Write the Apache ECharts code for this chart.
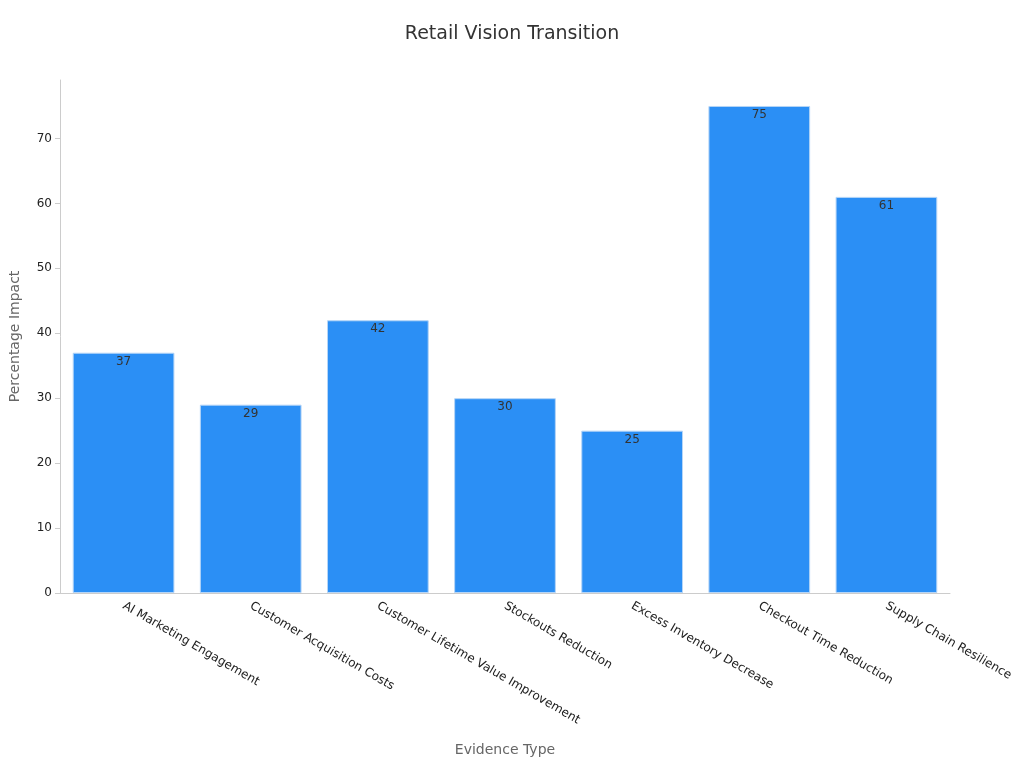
<!DOCTYPE html>
<html><head><meta charset="utf-8">
<script src="https://cdn.jsdelivr.net/npm/echarts@6/dist/echarts.min.js"></script>
<style>html,body{margin:0;padding:0;background:#fff}#c{width:1024px;height:768px}</style>
</head><body><div id="c"></div>
<script>
const categories = ["AI Marketing Engagement","Customer Acquisition Costs","Customer Lifetime Value Improvement","Stockouts Reduction","Excess Inventory Decrease","Checkout Time Reduction","Supply Chain Resilience"];
const values = [37,29,42,30,25,75,61];
const chart = echarts.init(document.getElementById('c'));
const font = 'DejaVu Sans';
chart.setOption({
  textStyle:{fontFamily:font},
  title:{text:'Retail Vision Transition',left:'center',top:20,textStyle:{fontFamily:font,fontSize:19,fontWeight:'normal',color:'#333'}},
  grid:{left:60,right:74,top:80,bottom:175},
  xAxis:{type:'category',data:categories,name:'Evidence Type',nameLocation:'middle',nameGap:150,
    nameTextStyle:{color:'#666',fontSize:14,fontFamily:font},
    axisLine:{lineStyle:{color:'#ccc'}},axisTick:{alignWithLabel:true,lineStyle:{color:'#ccc'}},
    axisLabel:{rotate:-30,color:'#222',fontSize:12,fontFamily:font,interval:0,margin:12}},
  yAxis:{type:'value',min:0,max:79,interval:10,name:'Percentage Impact',nameLocation:'middle',nameGap:38,
    nameTextStyle:{color:'#666',fontSize:14,fontFamily:font},
    axisLine:{show:true,lineStyle:{color:'#ccc'}},axisTick:{show:true,lineStyle:{color:'#ccc'}},
    splitLine:{show:false},
    axisLabel:{color:'#222',fontSize:12,fontFamily:font,showMaxLabel:false}},
  series:[{type:'bar',data:values,barCategoryGap:'20%',
    itemStyle:{color:'#2b8ff5',borderColor:'#b5d5f7',borderWidth:1},
    label:{show:true,position:'insideTop',color:'#333',fontSize:12,fontFamily:font,offset:[0,-2]}}]
});
</script></body></html>
